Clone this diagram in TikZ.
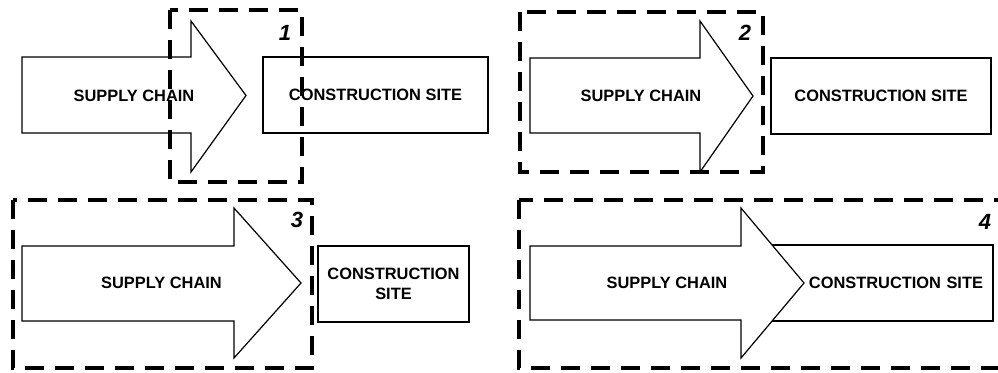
\documentclass[tikz,border=0pt]{standalone}
\usepackage{fontspec}
\setmainfont{Liberation Sans}
\begin{document}
\begin{tikzpicture}[x=0.5pt,y=-0.5pt,
    flow/.style={draw, fill=white, line width=0.6pt, line join=miter},
    sitebox/.style={draw, fill=white, line width=0.6pt, inner sep=0pt, minimum height=38pt},
    zone/.style={draw, line width=1.6pt, dash pattern=on 9.5pt off 5.5pt},
    tag/.style={font=\fontsize{8.2}{10}\selectfont\bfseries},
    num/.style={font=\fontsize{11}{13}\selectfont\bfseries\itshape}]
    \useasboundingbox (0,0) rectangle (998,372);
    \clip (0,0) rectangle (998,372);

    % case 1
    \draw[flow] (22,57) -- (191,57) -- (191,21) -- (246,95.5) -- (191,172) -- (191,133) -- (22,133) -- cycle;
    \node[tag] (chain1) at (134,95.5) {SUPPLY CHAIN};
    \node[sitebox, tag, minimum width=112.5pt] (site1) at (375.5,95) {CONSTRUCTION SITE};
    \draw[zone] (170,10) rectangle (302,182);
    \node[num] (n1) at (285,33) {1};

    % case 2
    \draw[flow] (530,58) -- (700,58) -- (700,21) -- (753,96) -- (700,172) -- (700,133) -- (530,133) -- cycle;
    \node[tag] (chain2) at (641,96) {SUPPLY CHAIN};
    \node[sitebox, tag, minimum width=110pt] (site2) at (881,96) {CONSTRUCTION SITE};
    \draw[zone] (520,12) rectangle (763,172);
    \node[num] (n2) at (745,33) {2};

    % case 3
    \draw[flow] (22,246) -- (234,246) -- (234,208) -- (301,283) -- (234,358) -- (234,321) -- (22,321) -- cycle;
    \node[tag] (chain3) at (161.5,283) {SUPPLY CHAIN};
    \node[sitebox, tag, minimum width=75.5pt, align=center] (site3) at (393.5,284) {CONSTRUCTION\\SITE};
    \draw[zone] (13,200) rectangle (312,368);
    \node[num] (n3) at (297,220) {3};

    % case 4
    \node[sitebox, tag, minimum width=116.5pt, text width=106.5pt, align=right] (site4) at (876.5,283) {CONSTRUCTION SITE};
    \draw[flow] (530,246) -- (741,246) -- (741,208) -- (804,283) -- (741,358) -- (741,320) -- (530,320) -- cycle;
    \node[tag] (chain4) at (667,283) {SUPPLY CHAIN};
    \draw[zone] (519,200) rectangle (1003,368);
    \node[num] (n4) at (985,222) {4};
\end{tikzpicture}
\end{document}
